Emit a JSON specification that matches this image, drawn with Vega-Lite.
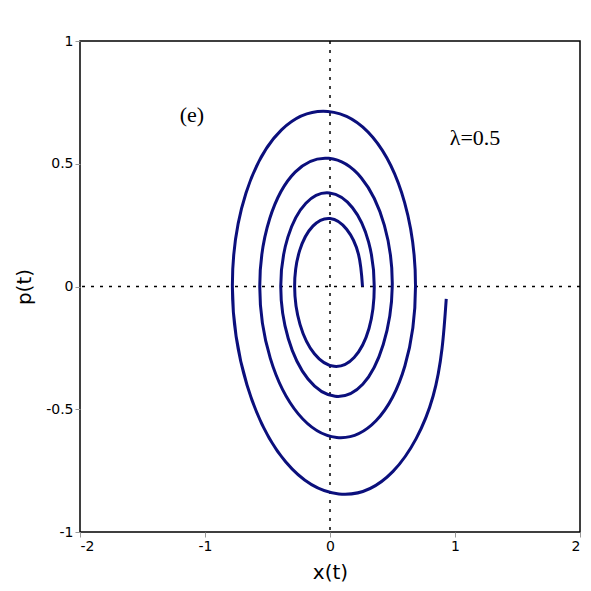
{
  "$schema": "https://vega.github.io/schema/vega-lite/v6.json",
  "width": 500,
  "height": 491,
  "autosize": {"type": "none"},
  "padding": {"left": 80, "top": 41, "right": 11, "bottom": 59},
  "background": "white",
  "config": {
    "view": {"stroke": "black", "strokeWidth": 1.5},
    "axis": {
      "grid": false,
      "domain": false,
      "tickColor": "#999999",
      "tickSize": 5,
      "labelColor": "black",
      "labelFont": "DejaVu Sans",
      "labelFontSize": 14,
      "labelPadding": 2,
      "titleFont": "DejaVu Sans",
      "titleFontSize": 20,
      "titleFontWeight": "normal",
      "titleColor": "black"
    }
  },
  "datasets": {
    "spiral": [
      {"n": 0, "x": 0.260, "p": 0.0},
      {"n": 1, "x": 0.228, "p": 0.131},
      {"n": 2, "x": 0.133, "p": 0.233},
      {"n": 3, "x": 0.001, "p": 0.277},
      {"n": 4, "x": -0.137, "p": 0.246},
      {"n": 5, "x": -0.243, "p": 0.146},
      {"n": 6, "x": -0.283, "p": 0.0},
      {"n": 7, "x": -0.240, "p": -0.154},
      {"n": 8, "x": -0.125, "p": -0.274},
      {"n": 9, "x": 0.033, "p": -0.325},
      {"n": 10, "x": 0.193, "p": -0.289},
      {"n": 11, "x": 0.312, "p": -0.171},
      {"n": 12, "x": 0.354, "p": 0.0},
      {"n": 13, "x": 0.309, "p": 0.181},
      {"n": 14, "x": 0.180, "p": 0.321},
      {"n": 15, "x": -0.004, "p": 0.381},
      {"n": 16, "x": -0.193, "p": 0.339},
      {"n": 17, "x": -0.337, "p": 0.201},
      {"n": 18, "x": -0.394, "p": 0.0},
      {"n": 19, "x": -0.334, "p": -0.212},
      {"n": 20, "x": -0.176, "p": -0.377},
      {"n": 21, "x": 0.041, "p": -0.447},
      {"n": 22, "x": 0.262, "p": -0.398},
      {"n": 23, "x": 0.426, "p": -0.236},
      {"n": 24, "x": 0.498, "p": 0.0},
      {"n": 25, "x": 0.435, "p": 0.249},
      {"n": 26, "x": 0.251, "p": 0.442},
      {"n": 27, "x": -0.010, "p": 0.522},
      {"n": 28, "x": -0.279, "p": 0.466},
      {"n": 29, "x": -0.482, "p": 0.277},
      {"n": 30, "x": -0.562, "p": 0.0},
      {"n": 31, "x": -0.478, "p": -0.292},
      {"n": 32, "x": -0.254, "p": -0.519},
      {"n": 33, "x": 0.054, "p": -0.615},
      {"n": 34, "x": 0.368, "p": -0.547},
      {"n": 35, "x": 0.599, "p": -0.324},
      {"n": 36, "x": 0.684, "p": 0.0},
      {"n": 37, "x": 0.597, "p": 0.342},
      {"n": 38, "x": 0.342, "p": 0.608},
      {"n": 39, "x": -0.017, "p": 0.713},
      {"n": 40, "x": -0.388, "p": 0.638},
      {"n": 41, "x": -0.672, "p": 0.381},
      {"n": 42, "x": -0.781, "p": 0.0},
      {"n": 43, "x": -0.664, "p": -0.401},
      {"n": 44, "x": -0.355, "p": -0.714},
      {"n": 45, "x": 0.071, "p": -0.845},
      {"n": 46, "x": 0.504, "p": -0.753},
      {"n": 47, "x": 0.825, "p": -0.446},
      {"n": 48, "x": 0.930, "p": -0.050}
    ],
    "labels": [
      {"tx": -1.105, "tp": 0.697, "label": "(e)"},
      {"tx": 1.16, "tp": 0.605, "label": "λ=0.5"}
    ],
    "axes0": [
      {"zero": 0}
    ]
  },
  "layer": [
    {
      "data": {"name": "axes0"},
      "mark": {"type": "rule", "color": "black", "strokeWidth": 1.5, "strokeDash": [3, 6]},
      "encoding": {"x": {"field": "zero", "type": "quantitative"}}
    },
    {
      "data": {"name": "axes0"},
      "mark": {"type": "rule", "color": "black", "strokeWidth": 1.5, "strokeDash": [3, 6]},
      "encoding": {"y": {"field": "zero", "type": "quantitative"}}
    },
    {
      "data": {"name": "spiral"},
      "mark": {"type": "line", "color": "#0b0f7c", "strokeWidth": 3, "interpolate": "natural", "clip": true},
      "encoding": {
        "order": {"field": "n", "type": "quantitative"},
        "x": {
          "field": "x",
          "type": "quantitative",
          "scale": {"domain": [-2, 2], "nice": false, "zero": false},
          "axis": {
            "title": "x(t)",
            "values": [-2, -1, 0, 1, 2],
            "titlePadding": 9,
            "labelExpr": "datum.value < 0 ? '-' + abs(datum.value) : '' + datum.value"
          }
        },
        "y": {
          "field": "p",
          "type": "quantitative",
          "scale": {"domain": [-1, 1], "nice": false, "zero": false},
          "axis": {
            "title": "p(t)",
            "values": [-1, -0.5, 0, 0.5, 1],
            "titlePadding": 11,
            "labelExpr": "datum.value < 0 ? '-' + abs(datum.value) : '' + datum.value"
          }
        }
      }
    },
    {
      "data": {"name": "labels"},
      "mark": {"type": "text", "font": "Liberation Serif", "fontSize": 22, "color": "black", "align": "center", "baseline": "middle"},
      "encoding": {
        "x": {"field": "tx", "type": "quantitative"},
        "y": {"field": "tp", "type": "quantitative"},
        "text": {"field": "label"}
      }
    }
  ]
}
